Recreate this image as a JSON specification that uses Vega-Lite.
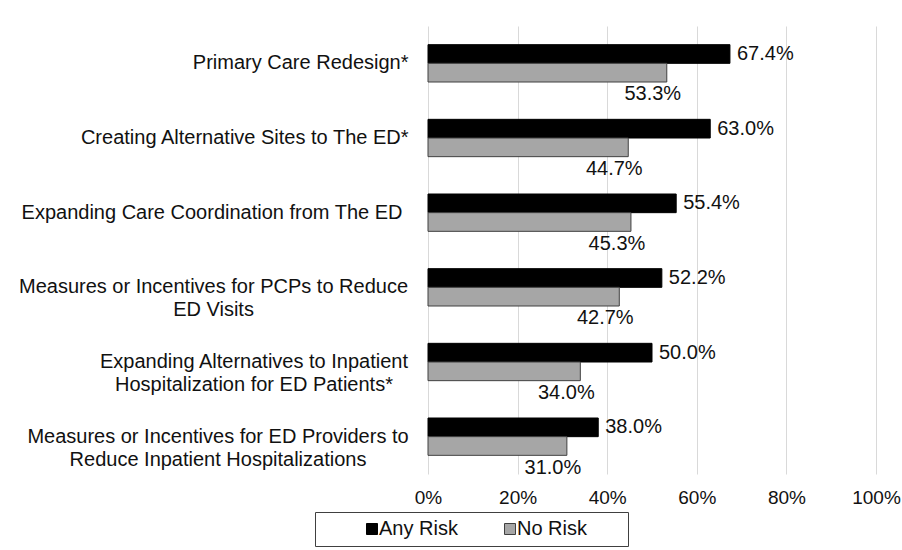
{
  "$schema": "https://vega.github.io/schema/vega-lite/v6.json",
  "width": 448,
  "height": 448,
  "autosize": {"type": "none"},
  "padding": {"left": 428, "top": 26, "right": 26, "bottom": 76},
  "background": "white",
  "config": {"font": "Liberation Sans", "view": {"stroke": null}},
  "data": {
    "values": [
      {"category": "Primary Care Redesign*", "series": "Any Risk", "value": 0.674},
      {"category": "Primary Care Redesign*", "series": "No Risk", "value": 0.533},
      {"category": "Creating Alternative Sites to The ED*", "series": "Any Risk", "value": 0.630},
      {"category": "Creating Alternative Sites to The ED*", "series": "No Risk", "value": 0.447},
      {"category": "Expanding Care Coordination from The ED", "series": "Any Risk", "value": 0.554},
      {"category": "Expanding Care Coordination from The ED", "series": "No Risk", "value": 0.453},
      {"category": "Measures or Incentives for PCPs to Reduce|ED Visits", "series": "Any Risk", "value": 0.522},
      {"category": "Measures or Incentives for PCPs to Reduce|ED Visits", "series": "No Risk", "value": 0.427},
      {"category": "Expanding Alternatives to Inpatient|Hospitalization for ED Patients*", "series": "Any Risk", "value": 0.500},
      {"category": "Expanding Alternatives to Inpatient|Hospitalization for ED Patients*", "series": "No Risk", "value": 0.340},
      {"category": "Measures or Incentives for ED Providers to|Reduce Inpatient Hospitalizations", "series": "Any Risk", "value": 0.380},
      {"category": "Measures or Incentives for ED Providers to|Reduce Inpatient Hospitalizations", "series": "No Risk", "value": 0.310}
    ]
  },
  "encoding": {
    "y": {
      "field": "category",
      "type": "nominal",
      "sort": null,
      "title": null,
      "scale": {"paddingInner": 0.5, "paddingOuter": 0.25},
      "axis": {
        "domain": false,
        "ticks": false,
        "labelFontSize": 20,
        "labelLineHeight": 23,
        "labelColor": "#111111",
        "labelLimit": 600,
        "labelExpr": "split(datum.label, '|')",
        "labelAlign": {
          "condition": {"test": "indexof(datum.value, '|') >= 0", "value": "center"},
          "value": "right"
        },
        "labelPadding": {
          "condition": [
            {"test": "indexof(datum.value, 'PCPs') >= 0", "value": 215},
            {"test": "indexof(datum.value, 'Patients') >= 0", "value": 174.5},
            {"test": "indexof(datum.value, 'Providers') >= 0", "value": 210.5},
            {"test": "indexof(datum.value, 'Coordination') >= 0", "value": 26}
          ],
          "value": 20
        }
      }
    },
    "x": {
      "field": "value",
      "type": "quantitative",
      "title": null,
      "scale": {"domain": [0, 1]},
      "axis": {
        "values": [0, 0.2, 0.4, 0.6, 0.8, 1],
        "format": ".0%",
        "domain": false,
        "ticks": false,
        "grid": true,
        "gridColor": "#d9d9d9",
        "gridWidth": 1,
        "labelFontSize": 19,
        "labelPadding": 14,
        "labelColor": "#111111",
        "labelFlush": false,
        "labelOverlap": false
      }
    }
  },
  "layer": [
    {
      "mark": {"type": "bar", "strokeWidth": 1},
      "encoding": {
        "yOffset": {
          "field": "series",
          "type": "nominal",
          "scale": {"domain": ["Any Risk", "No Risk"], "paddingInner": 0, "paddingOuter": 0}
        },
        "fill": {
          "field": "series",
          "type": "nominal",
          "title": null,
          "scale": {"domain": ["Any Risk", "No Risk"], "range": ["#000000", "#a6a6a6"]},
          "legend": {
            "orient": "none",
            "legendX": -113,
            "legendY": 486,
            "direction": "horizontal",
            "symbolType": "square",
            "symbolSize": 121,
            "symbolStrokeWidth": 1,
            "labelFontSize": 20,
            "labelColor": "#111111",
            "labelOffset": -3,
            "columnPadding": 2,
            "padding": 7,
            "symbolOffset": 40,
            "strokeColor": "#404040",
            "labelExpr": "datum.label == 'No Risk' ? 'No Risk\u00a0\u00a0\u00a0\u00a0\u00a0\u00a0\u200b' : datum.label"
          }
        },
        "stroke": {
          "field": "series",
          "type": "nominal",
          "title": null,
          "scale": {"domain": ["Any Risk", "No Risk"], "range": ["#000000", "#404040"]}
        }
      }
    },
    {
      "transform": [{"filter": "datum.series === 'Any Risk'"}],
      "mark": {"type": "text", "align": "left", "baseline": "middle", "dx": 7, "fontSize": 20, "color": "#111111"},
      "encoding": {
        "yOffset": {
          "field": "series",
          "type": "nominal",
          "scale": {"domain": ["Any Risk", "No Risk"], "paddingInner": 0, "paddingOuter": 0}
        },
        "text": {"field": "value", "type": "quantitative", "format": ".1%"}
      }
    },
    {
      "transform": [{"filter": "datum.series === 'No Risk'"}],
      "mark": {"type": "text", "align": "center", "baseline": "middle", "dx": -14, "dy": 31, "fontSize": 20, "color": "#111111"},
      "encoding": {
        "text": {"field": "value", "type": "quantitative", "format": ".1%"}
      }
    }
  ]
}
